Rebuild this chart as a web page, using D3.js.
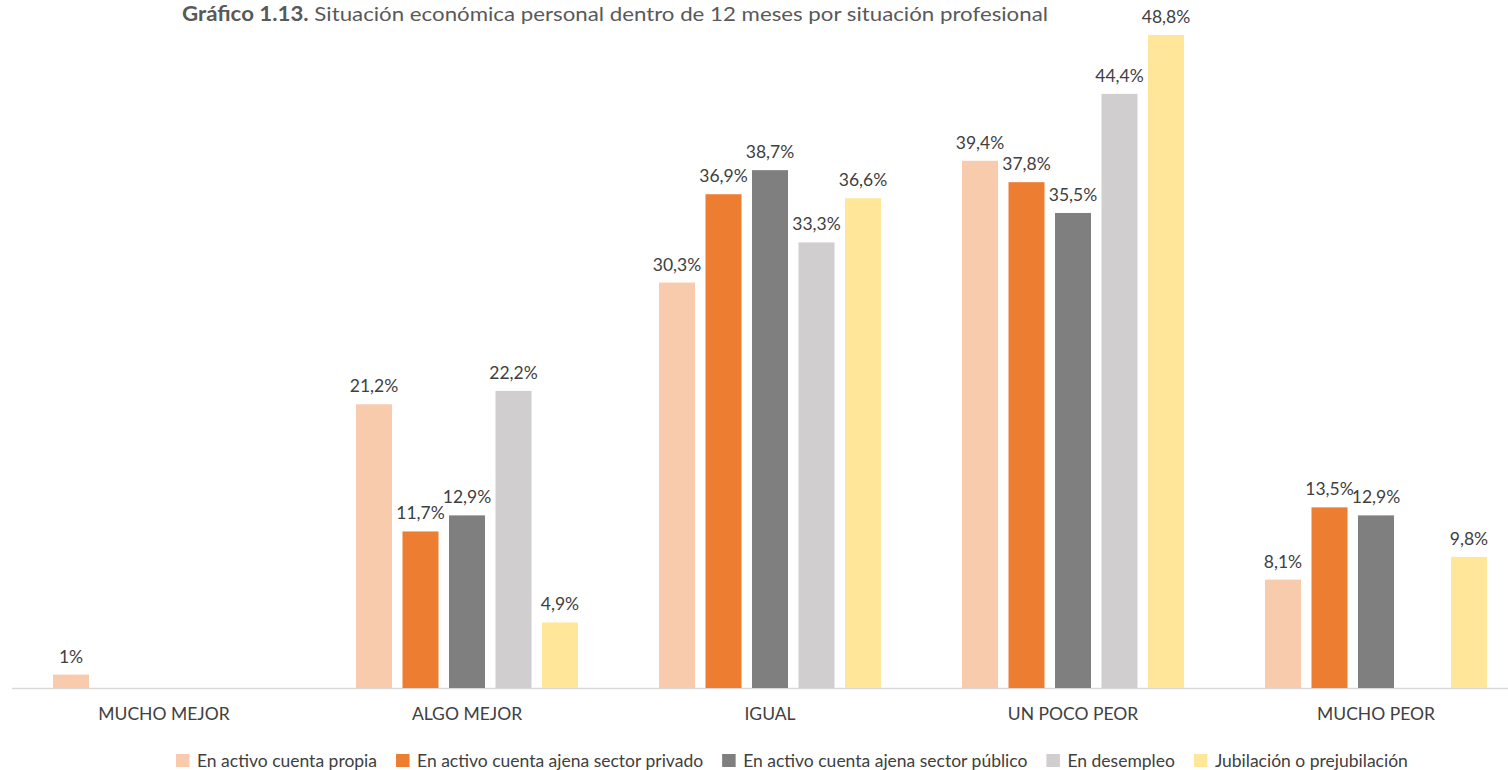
<!DOCTYPE html>
<html><head><meta charset="utf-8">
<script src="https://cdn.jsdelivr.net/npm/d3@7"></script>
<style>body{margin:0;background:#fff;overflow:hidden}svg{display:block}</style>
</head><body>
<svg id="chart" width="1508" height="770"></svg>
<script>
const categories = ["MUCHO MEJOR","ALGO MEJOR","IGUAL","UN POCO PEOR","MUCHO PEOR"];
const seriesNames = ["En activo cuenta propia","En activo cuenta ajena sector privado","En activo cuenta ajena sector público","En desempleo","Jubilación o prejubilación"];
const propia    = [1, 21.2, 30.3, 39.4, 8.1];
const privado   = [null, 11.7, 36.9, 37.8, 13.5];
const publico   = [null, 12.9, 38.7, 35.5, 12.9];
const desempleo = [null, 22.2, 33.3, 44.4, null];
const jubilacion= [null, 4.9, 36.6, 48.8, 9.8];
const colors = ["#F8CBAD","#ED7D31","#7F7F7F","#D0CECE","#FFE699"];
const seriesValues = [propia, privado, publico, desempleo, jubilacion];

const svg = d3.select("#chart");
const FONT = "Lato, 'Noto Sans', sans-serif";
const textColor = "#404040";
const FS = 17.5;

const x0 = d3.scaleBand().domain(categories).range([12.5, 1527.5]).padding(0);
const x1 = d3.scaleBand().domain(seriesNames).range([-111, 111]).paddingInner(0.226).paddingOuter(0);
const y = d3.scaleLinear().domain([0, 48.8]).range([688, 35]);

const fmt = v => (Number.isInteger(v) ? String(v) : d3.format(".1f")(v).replace(".", ",")) + "%";

// title
const title = svg.append("text").attr("x", 615).attr("y", 21).attr("text-anchor","middle")
  .attr("font-family", FONT).attr("font-size", 20).attr("fill", "#595959");
title.append("tspan").attr("font-weight","bold").text("Gráfico 1.13.");
title.append("tspan").text(" Situación económica personal dentro de 12 meses por situación profesional");
title.attr("textLength", 866).attr("lengthAdjust", "spacingAndGlyphs");

// axis line
svg.append("line").attr("x1", 12).attr("x2", 1508).attr("y1", y(0)+0.5).attr("y2", y(0)+0.5)
  .attr("stroke", "#D9D9D9").attr("stroke-width", 1.5);

const flat = [];
categories.forEach((c, ci) => seriesNames.forEach((s, si) => {
  const v = seriesValues[si][ci];
  if (v != null) flat.push({c, s, si, v});
}));

svg.append("g").selectAll("rect").data(flat).join("rect")
  .attr("x", d => x0(d.c) + x0.bandwidth()/2 + x1(d.s))
  .attr("width", x1.bandwidth())
  .attr("y", d => y(d.v))
  .attr("height", d => y(0) - y(d.v))
  .attr("fill", d => colors[d.si]);

svg.append("g").selectAll("text").data(flat).join("text")
  .attr("x", d => x0(d.c) + x0.bandwidth()/2 + x1(d.s) + x1.bandwidth()/2)
  .attr("y", d => y(d.v) - 12)
  .attr("text-anchor", "middle")
  .attr("font-family", FONT).attr("font-size", FS).attr("fill", textColor)
  .text(d => fmt(d.v));

// category axis labels
const xAxis = d3.axisBottom(x0).tickSize(0).tickPadding(0);
const gx = svg.append("g").attr("transform", `translate(0,${y(0)})`).call(xAxis);
gx.select(".domain").remove();
gx.selectAll("text").attr("y", 32).attr("dy", 0)
  .attr("font-family", FONT).attr("font-size", FS).attr("fill", textColor);

// legend
const legend = svg.append("g");
let lx = 176;
seriesNames.forEach((s, i) => {
  const g = legend.append("g").attr("transform", `translate(${lx},0)`);
  g.append("rect").attr("x", 0).attr("y", 754).attr("width", 13.5).attr("height", 13).attr("fill", colors[i]);
  const t = g.append("text").attr("x", 21).attr("y", 767)
    .attr("font-family", FONT).attr("font-size", FS).attr("fill", textColor).text(s);
  const w = t.node().getComputedTextLength();
  lx += 21 + w + 19;
});
</script>
</body></html>
